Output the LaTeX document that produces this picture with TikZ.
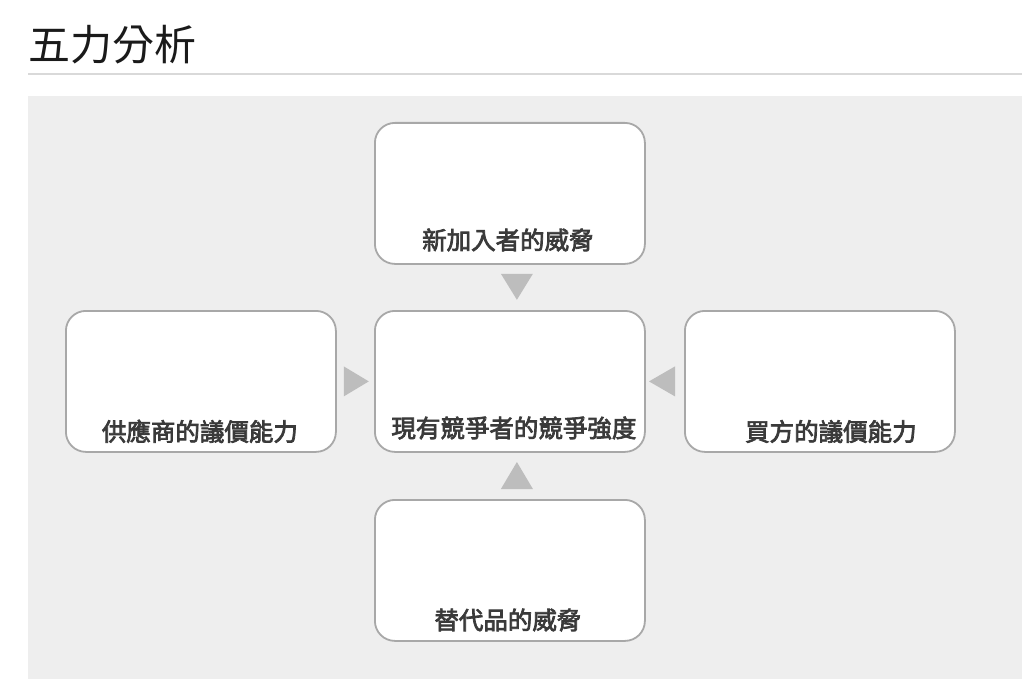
\documentclass[tikz,border=0pt]{standalone}
\usepackage{fontspec}
\newfontfamily\cjk{Noto Sans CJK TC}
\newfontfamily\cjkmed{Noto Sans CJK TC}[FakeBold=3]
\usetikzlibrary{calc}
\definecolor{panelgray}{HTML}{EEEEEE}
\definecolor{rulegray}{HTML}{D9D9D9}
\definecolor{boxborder}{HTML}{A8A8A8}
\definecolor{arrowgray}{HTML}{BDBDBD}
\definecolor{txtgray}{HTML}{3A3A3A}
\definecolor{titlecol}{HTML}{1A1A1A}
\tikzset{
  forcebox/.style={draw=boxborder, line width=1.8pt, fill=white, rounded corners=20pt,
    minimum width=270pt, minimum height=141pt, inner sep=0pt, anchor=north west},
  forcetext/.style={font=\cjkmed\fontsize{24.5}{28}\selectfont, text=txtgray, anchor=base, inner sep=0pt},
  tri/.style={fill=arrowgray, draw=none},
}
\begin{document}
\begin{tikzpicture}[x=1pt,y=-1pt]
\useasboundingbox (0,0) rectangle (1024,679);
\fill[white] (0,0) rectangle (1024,679);
% title
\node[font=\cjk\fontsize{42}{48}\selectfont, text=titlecol, anchor=base west, inner sep=0pt] (title) at (28,61) {五力分析};
\fill[rulegray] (28,73) rectangle (1022,75);
% panel
\fill[panelgray] (28,96) rectangle (1022,679);
% boxes
\node[forcebox] (top) at (374,122) {};
\node[forcebox] (mid) at (374,310) {};
\node[forcebox] (left) at (65,310) {};
\node[forcebox] (right) at (684,310) {};
\node[forcebox] (bot) at (374,499) {};
% texts
\node[forcetext] (ttop) at ($(top.south)+(-2,-15.5)$) {新加入者的威脅};
\node[forcetext] (tmid) at ($(mid.south)+(4,-15.5)$) {現有競爭者的競爭強度};
\node[forcetext] (tleft) at ($(left.south)+(-1,-12)$) {供應商的議價能力};
\node[forcetext] (tright) at ($(right.south)+(11,-12)$) {買方的議價能力};
\node[forcetext] (tbot) at ($(bot.south)+(-2,-12.5)$) {替代品的威脅};
% triangles
\fill[tri] ($(top.south)+(-9,9)$) -- ++(32,0) -- ++(-16,26) -- cycle;
\fill[tri] ($(bot.north)+(-9,-10)$) -- ++(32,0) -- ++(-16,-27) -- cycle;
\fill[tri] ($(left.east)+(7,-15)$) -- ++(0,30) -- ++(25,-15) -- cycle;
\fill[tri] ($(right.west)+(-9,-15)$) -- ++(0,30) -- ++(-26,-15) -- cycle;
\end{tikzpicture}
\end{document}
